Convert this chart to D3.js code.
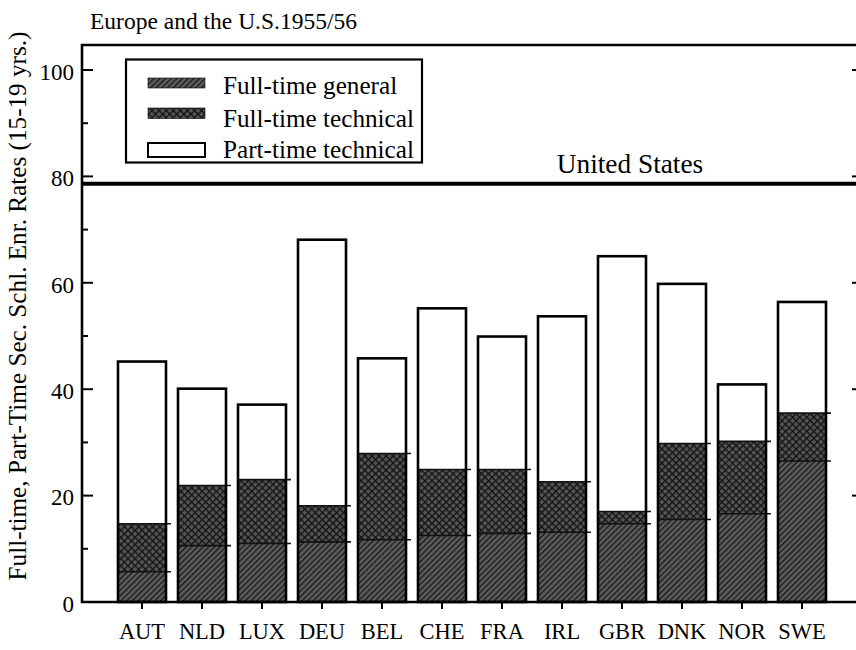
<!DOCTYPE html>
<html>
<head>
<meta charset="utf-8">
<script src="https://cdn.jsdelivr.net/npm/d3@7"></script>
<style>
  body { margin: 0; background: #fff; }
  svg { font-family: "Liberation Serif", "Times New Roman", serif; }
</style>
</head>
<body>
<div id="chart"></div>
<script>
// data
const countries = ["AUT", "NLD", "LUX", "DEU", "BEL", "CHE", "FRA", "IRL", "GBR", "DNK", "NOR", "SWE"];
const fullTimeGeneral   = [5.7, 10.6, 11.0, 11.3, 11.7, 12.5, 12.9, 13.1, 14.7, 15.5, 16.6, 26.5];
const fullTimeTechnical = [9.0, 11.3, 12.0, 6.8, 16.2, 12.4, 12.0, 9.5, 2.3, 14.3, 13.6, 9.0];
const partTimeTechnical = [30.5, 18.2, 14.1, 50.0, 17.9, 30.3, 25.0, 31.1, 48.0, 30.0, 10.7, 20.9];
const seriesNames = ["Full-time general", "Full-time technical", "Part-time technical"];
const usValue = 78.6;
const yTicks = [0, 20, 40, 60, 80, 100];

class StackedChart {
    constructor(opts) {
        this.element = opts.element;
        this.draw();
    }

    draw() {
        this.width = 856;
        this.height = 650;
        this.margin = { top: 45, right: -4, bottom: 48, left: 82 };

        const svg = d3.select(this.element).append('svg')
            .attr('width', this.width)
            .attr('height', this.height);
        this.svg = svg;

        this.addPatterns();

        this.plot = svg.append('g')
            .attr('transform', `translate(${this.margin.left},${this.margin.top})`);

        this.createScales();
        this.addBars();
        this.addAxes();
        this.addUsLine();
        this.addLegend();
        this.addTitles();
    }

    addPatterns() {
        const defs = this.svg.append('defs');

        // diagonal hatch for full-time general
        const diag = defs.append('pattern')
            .attr('id', 'hatch-diag')
            .attr('patternUnits', 'userSpaceOnUse')
            .attr('width', 4).attr('height', 4)
            .attr('patternTransform', 'rotate(45)');
        diag.append('rect').attr('width', 4).attr('height', 4).attr('fill', '#5a5a5a');
        diag.append('line')
            .attr('x1', 0).attr('y1', 0).attr('x2', 0).attr('y2', 4)
            .attr('stroke', '#111').attr('stroke-width', 2.2);

        // cross hatch for full-time technical
        const cross = defs.append('pattern')
            .attr('id', 'hatch-cross')
            .attr('patternUnits', 'userSpaceOnUse')
            .attr('width', 5).attr('height', 5)
            .attr('patternTransform', 'rotate(45)');
        cross.append('rect').attr('width', 5).attr('height', 5).attr('fill', '#555');
        cross.append('line')
            .attr('x1', 0).attr('y1', 0).attr('x2', 0).attr('y2', 5)
            .attr('stroke', '#111').attr('stroke-width', 2.6);
        cross.append('line')
            .attr('x1', 0).attr('y1', 0).attr('x2', 5).attr('y2', 0)
            .attr('stroke', '#111').attr('stroke-width', 2.6);
    }

    createScales() {
        const m = this.margin;
        this.innerW = this.width - m.left - m.right;
        this.innerH = this.height - m.top - m.bottom;

        this.xScale = d3.scaleBand()
            .domain(countries)
            .range([30, 30 + 60 * countries.length])
            .paddingInner(0.2)
            .paddingOuter(0.1);

        this.yScale = d3.scaleLinear()
            .domain([0, 104.7])
            .range([this.innerH, 0]);
    }

    addBars() {
        const rows = countries.map((c, i) => ({
            country: c,
            general: fullTimeGeneral[i],
            technical: fullTimeTechnical[i],
            parttime: partTimeTechnical[i]
        }));
        const stack = d3.stack().keys(['general', 'technical', 'parttime']);
        const layers = stack(rows);
        const fills = ['url(#hatch-diag)', 'url(#hatch-cross)', '#fff'];

        const x = this.xScale, y = this.yScale;

        layers.forEach((layer, li) => {
            this.plot.append('g')
                .selectAll('rect')
                .data(layer)
                .enter()
                .append('rect')
                .attr('x', d => x(d.data.country))
                .attr('y', d => y(d[1]))
                .attr('width', x.bandwidth())
                .attr('height', d => y(d[0]) - y(d[1]))
                .attr('fill', fills[li]);
        });

        // segment boundaries, sticking out a little to the right
        [0, 1].forEach(li => {
            this.plot.append('g')
                .selectAll('line')
                .data(layers[li])
                .enter()
                .append('line')
                .attr('x1', d => x(d.data.country))
                .attr('x2', d => x(d.data.country) + x.bandwidth() + 5)
                .attr('y1', d => y(d[1]))
                .attr('y2', d => y(d[1]))
                .attr('stroke', '#111')
                .attr('stroke-width', 1.6);
        });

        // outer outline
        const top = layers[2];
        this.plot.append('g')
            .selectAll('rect')
            .data(top)
            .enter()
            .append('rect')
            .attr('x', d => x(d.data.country))
            .attr('y', d => y(d[1]))
            .attr('width', x.bandwidth())
            .attr('height', d => y(0) - y(d[1]))
            .attr('fill', 'none')
            .attr('stroke', '#000')
            .attr('stroke-width', 2.6);
    }

    addAxes() {
        const y = this.yScale;
        const h = this.innerH;
        const minor = d3.range(10, 101, 20);

        const left = this.plot.append('g').attr('class', 'y axis');
        left.call(d3.axisLeft(y).tickValues(yTicks).tickSize(0).tickPadding(8))
            .call(g => g.select('.domain').remove());
        left.selectAll('text')
            .attr('font-size', 23)
            .attr('dy', '0.4em')
            .attr('font-family', '"Liberation Serif", serif')
            .attr('fill', '#000');

        // inward ticks on left and right
        const tickG = this.plot.append('g').attr('stroke', '#000').attr('stroke-width', 2);
        tickG.selectAll('line.maj')
            .data(yTicks.slice(1))
            .enter().append('line')
            .attr('x1', 0).attr('x2', 11)
            .attr('y1', d => y(d)).attr('y2', d => y(d));
        tickG.selectAll('line.min')
            .data(minor)
            .enter().append('line')
            .attr('x1', 0).attr('x2', 6)
            .attr('y1', d => y(d)).attr('y2', d => y(d));
        const rx = this.innerW + 2;
        tickG.selectAll('line.rmaj')
            .data(yTicks.slice(1))
            .enter().append('line')
            .attr('x1', rx).attr('x2', rx - 10)
            .attr('y1', d => y(d)).attr('y2', d => y(d));
        tickG.selectAll('line.rmin')
            .data(minor)
            .enter().append('line')
            .attr('x1', rx).attr('x2', rx - 5)
            .attr('y1', d => y(d)).attr('y2', d => y(d));

        // bottom axis with downward ticks
        const bottom = this.plot.append('g')
            .attr('class', 'x axis')
            .attr('transform', `translate(0,${h})`)
            .call(d3.axisBottom(this.xScale).tickSize(7).tickPadding(14));
        bottom.select('.domain').remove();
        bottom.selectAll('line').attr('stroke', '#000').attr('stroke-width', 2);
        bottom.selectAll('text')
            .attr('font-size', 22.5)
            .attr('font-family', '"Liberation Serif", serif')
            .attr('fill', '#000');

        // frame
        this.plot.append('path')
            .attr('d', `M${this.innerW + 10},0H0V${h}H${this.innerW + 10}`)
            .attr('fill', 'none')
            .attr('stroke', '#000')
            .attr('stroke-width', 2.6);
    }

    addUsLine() {
        const y = this.yScale(usValue);
        this.plot.append('line')
            .attr('x1', 0).attr('x2', this.innerW + 10)
            .attr('y1', y).attr('y2', y)
            .attr('stroke', '#000')
            .attr('stroke-width', 4);
        this.plot.append('text')
            .attr('x', 548)
            .attr('y', y - 11)
            .attr('text-anchor', 'middle')
            .attr('font-size', 27.3)
            .text('United States');
    }

    addLegend() {
        const g = this.svg.append('g');
        g.append('rect')
            .attr('x', 126).attr('y', 59.5)
            .attr('width', 296).attr('height', 103)
            .attr('fill', '#fff')
            .attr('stroke', '#000')
            .attr('stroke-width', 2.2);
        const fills = ['url(#hatch-diag)', 'url(#hatch-cross)', '#fff'];
        const sw = [[78, 88], [108, 118.5], [143, 157]];
        const base = [94, 127, 158];
        seriesNames.forEach((name, i) => {
            g.append('rect')
                .attr('x', 148).attr('y', sw[i][0])
                .attr('width', 57).attr('height', sw[i][1] - sw[i][0])
                .attr('fill', fills[i])
                .attr('stroke', '#000')
                .attr('stroke-width', i === 2 ? 2 : 0.6);
            g.append('text')
                .attr('x', 223).attr('y', base[i])
                .attr('font-size', 25.2)
                .text(name);
        });
    }

    addTitles() {
        this.svg.append('text')
            .attr('x', 90).attr('y', 28.5)
            .attr('font-size', 23.5)
            .text('Europe and the U.S.1955/56');

        this.svg.append('text')
            .attr('transform', 'translate(26,306) rotate(-90)')
            .attr('text-anchor', 'middle')
            .attr('font-size', 25.2)
            .text('Full-time, Part-Time Sec. Schl. Enr. Rates (15-19 yrs.)');
    }
}

new StackedChart({ element: document.getElementById('chart') });
</script>
</body>
</html>
